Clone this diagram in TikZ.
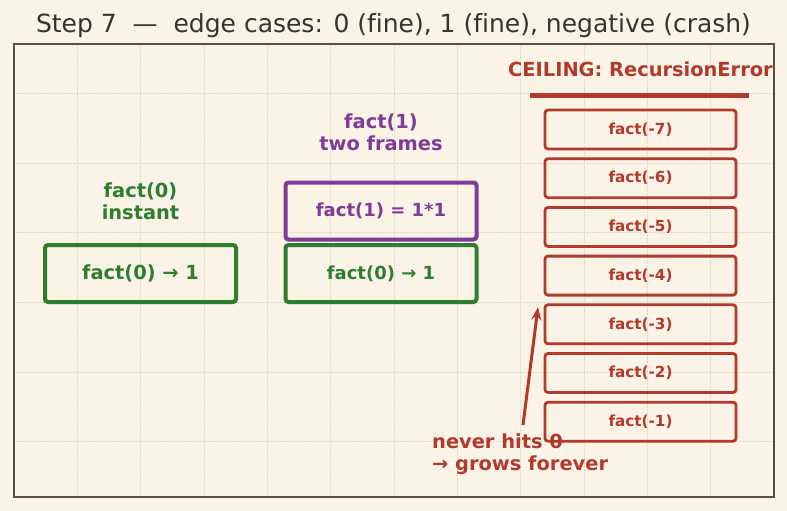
\documentclass[tikz,border=0pt]{standalone}
\usepackage{fontspec}
\setmainfont{DejaVu Sans}[Ligatures={NoCommon}]
\usetikzlibrary{arrows.meta}

\definecolor{bgcream}{HTML}{FAF3E6}
\definecolor{framebrown}{HTML}{5B4F41}
\definecolor{gridtan}{HTML}{E2DACB}
\definecolor{titleink}{HTML}{3B3229}
\definecolor{fgreen}{HTML}{2E7D32}
\definecolor{fpurple}{HTML}{7D3C98}
\definecolor{fred}{HTML}{B03A2E}

\begin{document}
\begin{tikzpicture}[x=1pt,y=-1pt,>={Stealth[length=13pt,width=10pt]},node distance=48.7pt,
  big/.style={font=\fontsize{19.4}{22}\selectfont\bfseries},
  okbox/.style={draw=fgreen,text=fgreen,line width=4pt,rounded corners=3pt,
    minimum width=191pt,minimum height=57pt,inner sep=0pt},
  callbox/.style={okbox,draw=fpurple,text=fpurple},
  negbox/.style={draw=fred,text=fred,line width=2.8pt,rounded corners=3pt,
    minimum width=191pt,minimum height=39pt,inner sep=0pt,
    font=\fontsize{15.2}{18}\selectfont\bfseries}]
  \fill[bgcream] (0,0) rectangle (787,511);
  \useasboundingbox (0,0) rectangle (787,511);
  % grid
  \foreach \gx in {77.3,140.7,204,267.3,330.7,394,457.3,520.7,584,647.3,710.7}
    \draw[gridtan,line width=0.5pt,densely dotted] (\gx,44) -- (\gx,497);
  \foreach \gy in {93.2,162.9,232.6,302.3,372,441.7}
    \draw[gridtan,line width=0.5pt,densely dotted] (14,\gy) -- (774,\gy);
  \node[text=titleink,font=\fontsize{25}{28}\selectfont] (title) at (393.5,26)
    {Step 7\ \ —\ \ edge cases: 0 (fine), 1 (fine), negative (crash)};

  % fact(0)
  \node[okbox,big] (zero) at (140.5,273.5) {fact(0) → 1};
  \node[big,text=fgreen,align=center,inner sep=0pt] (zerohead) at (140.5,201) {fact(0)\\instant};

  % fact(1)
  \node[callbox,font=\fontsize{18}{21}\selectfont\bfseries] (one) at (381,211) {fact(1) = 1*1};
  \node[okbox,font=\fontsize{18}{21}\selectfont\bfseries] (onezero) [below of=one,node distance=62.5pt] {fact(0) → 1};
  \node[big,text=fpurple,align=center,inner sep=0pt] (onehead) at (381,132) {fact(1)\\two frames};

  % negative
  \node[big,text=fred,inner sep=0pt] (ceiltext) at (640.5,69.5) {CEILING: RecursionError};
  \node[fill=fred,minimum width=219pt,minimum height=5pt,inner sep=0pt] (ceil) at (639.5,95) {};
  \node[negbox] (n7) at (640.5,129.5) {fact(-7)};
  \node[negbox] (n6) [below of=n7] {fact(-6)};
  \node[negbox] (n5) [below of=n6] {fact(-5)};
  \node[negbox] (n4) [below of=n5] {fact(-4)};
  \node[negbox] (n3) [below of=n4] {fact(-3)};
  \node[negbox] (n2) [below of=n3] {fact(-2)};
  \node[negbox] (n1) [below of=n2] {fact(-1)};
  \coordinate (tail) at (523,425);
  \coordinate (tip) at (538,307);
  \draw[->,fred,line width=3pt] (tail) -- (tip);
  \node[big,text=fred,align=left,anchor=west,inner sep=0pt] (note) at (432,454)
    {never hits 0\\→ grows forever};

  \draw[framebrown,line width=1.6pt] (14,44) rectangle (774,497);
\end{tikzpicture}
\end{document}
